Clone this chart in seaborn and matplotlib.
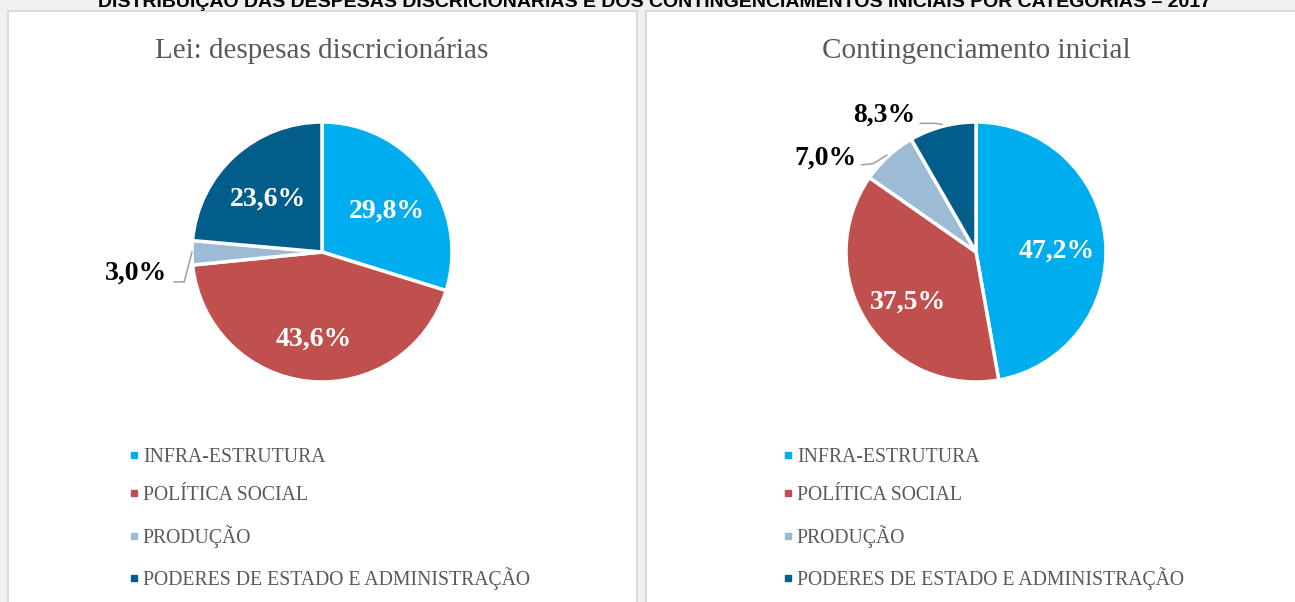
import numpy as np
import seaborn as sns
from matplotlib import pyplot as plt
from matplotlib.patches import Rectangle
from matplotlib.lines import Line2D

categories = ["INFRA-ESTRUTURA", "POLÍTICA SOCIAL", "PRODUÇÃO",
              "PODERES DE ESTADO E ADMINISTRAÇÃO"]
lei_values = [29.8, 43.6, 3.0, 23.6]
contingenciamento_values = [47.2, 37.5, 7.0, 8.3]
panel_titles = ["Lei: despesas discricionárias", "Contingenciamento inicial"]
main_title = ("DISTRIBUIÇÃO DAS DESPESAS DISCRICIONÁRIAS E DOS CONTINGENCIAMENTOS "
              "INICIAIS POR CATEGORIAS – 2017")
colors = ["#00AEEF", "#C0504D", "#9EBBD6", "#035D8A"]

sns.set_theme(style="white")
plt.rcParams['font.family'] = ['Liberation Serif', 'DejaVu Serif']

W, H = 1295, 602
fig = plt.figure(figsize=(W / 100, H / 100), dpi=100, facecolor="#F0F0F0")


def fx(px):
    return px / W


def fy(py):
    return 1 - py / H


# white panels behind the pies
for x0, x1 in [(8, 637), (646, 1310)]:
    fig.patches.append(Rectangle((fx(x0), fy(620)), fx(x1 - x0), (620 - 11) / H,
                                 transform=fig.transFigure, facecolor="white",
                                 edgecolor="#D6D6D6", linewidth=1.2, zorder=-5))

# title is cut off at the top edge in the reference
fig.text(fx(655), fy(7), main_title, ha="center", va="baseline", fontsize=14,
         fontweight="bold", family=["Liberation Sans", "DejaVu Sans"], color="black")


def fmt(v):
    return f"{v:.1f}%".replace(".", ",")


def draw_pie(cx, values, title, outside):
    size = 390
    ax = fig.add_axes([fx(cx - size / 2), fy(252 + size / 2), fx(size), size / H])
    wedges, _ = ax.pie(values, colors=colors, startangle=90, counterclock=False,
                       radius=1.0, wedgeprops=dict(edgecolor="white", linewidth=2.5))
    ax.set_xlim(-1.5, 1.5)
    ax.set_ylim(-1.5, 1.5)
    ax.set_aspect("equal")
    ax.axis("off")
    for i, (w, v) in enumerate(zip(wedges, values)):
        if i in outside:
            (tx, ty), pts = outside[i]
            ax.text(tx, ty, fmt(v), ha="right", va="center", fontsize=20,
                    fontweight="bold", color="black")
            xs, ys = zip(*pts)
            ax.plot(xs, ys, color="#A6A6A6", linewidth=1.2)
        else:
            ang = np.deg2rad((w.theta1 + w.theta2) / 2)
            ax.text(0.62 * np.cos(ang), 0.62 * np.sin(ang) - 0.05, fmt(v), ha="center",
                    va="center", fontsize=20, fontweight="bold", color="white")
    fig.text(fx(cx), fy(51), title, ha="center", va="center", fontsize=21,
             color="#595959")
    return wedges


draw_pie(322, lei_values, panel_titles[0],
         {2: ((-1.19, -0.16), [(-1.0, 0.0), (-1.06, -0.23), (-1.14, -0.23)])})
draw_pie(976, contingenciamento_values, panel_titles[1],
         {2: ((-0.92, 0.723), [(-0.685, 0.746), (-0.79, 0.68), (-0.88, 0.67)]),
          3: ((-0.47, 1.054), [(-0.26, 0.98), (-0.315, 0.99), (-0.43, 0.99)])})

handles = [Line2D([], [], marker="s", linestyle="none", markersize=5,
                  markerfacecolor=c, markeredgecolor=c) for c in colors]
for x0 in [128, 782]:
    fig.legend(handles, categories, loc="upper left",
               bbox_to_anchor=(fx(x0), fy(448)), frameon=False, fontsize=14.2,
               labelcolor="#595959", handlelength=0.6, handletextpad=0.15,
               labelspacing=0.98, borderpad=0, borderaxespad=0)

fig.savefig("out.png", dpi=100, facecolor=fig.get_facecolor())
